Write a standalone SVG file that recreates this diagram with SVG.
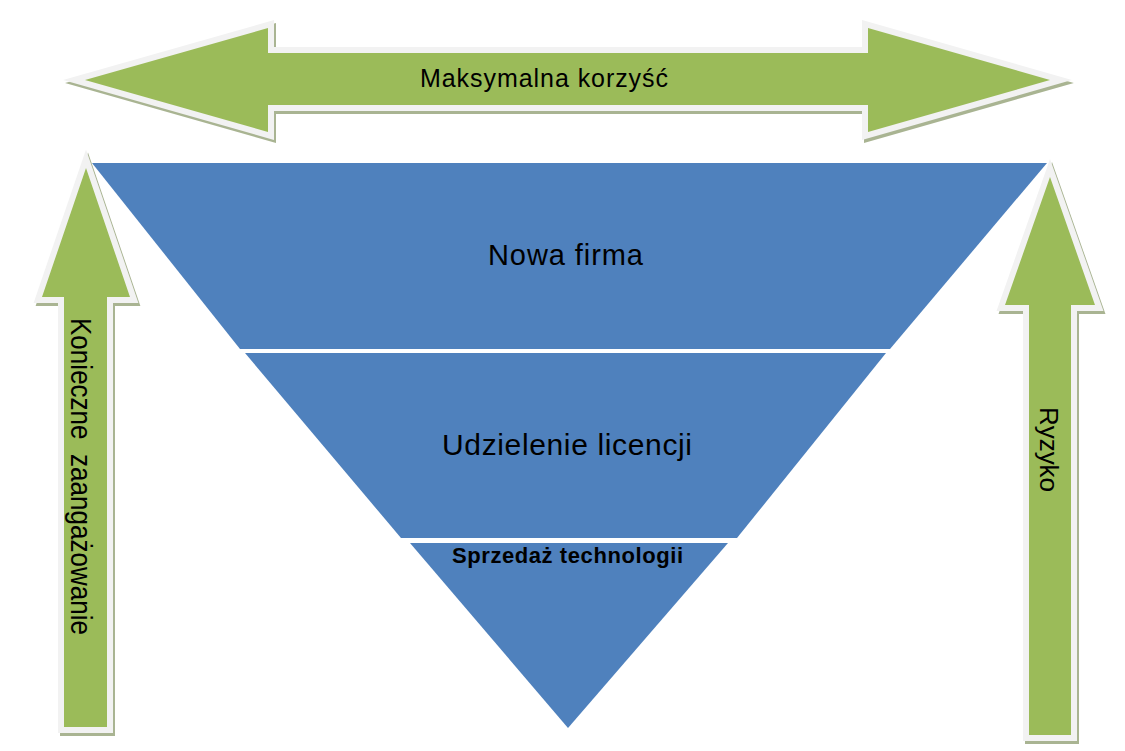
<svg xmlns="http://www.w3.org/2000/svg" width="1125" height="751" viewBox="0 0 1125 751">
<style>
.band{fill:#4f81bd}
.shadow{fill:#a9b492;stroke:#a9b492;stroke-width:12;stroke-linejoin:miter;stroke-miterlimit:10}
.border{fill:#f2f2f2;stroke:#f2f2f2;stroke-width:12;stroke-linejoin:miter;stroke-miterlimit:10}
.green{fill:#9bbb59}
.t{font-family:"Liberation Sans",Arial,sans-serif;fill:#000}
</style>
<defs>
<polygon id="hArrow" points="85,80 268,28 268,53 868,53 868,28 1050,80 868,132 868,105 268,105 268,132"/>
<polygon id="lArrow" points="86,168 130,297 107,297 107,727 64,727 64,297 42,297"/>
<polygon id="rArrow" points="1050,177 1095,305 1071,305 1071,735 1029,735 1029,305 1005,305"/>
</defs>
<rect width="1125" height="751" fill="#ffffff"/>
<g id="funnel">
<g id="nowa-firma">
<polygon class="band" points="92,163 1047,163 890,349 240,349"/>
<text class="t" x="488" y="265" font-size="29" textLength="155" lengthAdjust="spacing">Nowa firma</text>
</g>
<g id="udzielenie-licencji">
<polygon class="band" points="245,353 886,353 737,538 401,538"/>
<text class="t" x="442" y="455" font-size="30" textLength="250" lengthAdjust="spacing">Udzielenie licencji</text>
</g>
<g id="sprzedaz-technologii">
<polygon class="band" points="410,543 728,543 568,728"/>
<text class="t" x="452" y="563" font-size="22" font-weight="bold" textLength="231" lengthAdjust="spacing">Sprzedaż technologii</text>
</g>
</g>
<g id="maksymalna-korzysc">
<use href="#hArrow" class="shadow" transform="translate(2,3)"/>
<use href="#hArrow" class="border"/>
<use href="#hArrow" class="green"/>
<text class="t" x="420" y="87" font-size="25" textLength="248" lengthAdjust="spacing">Maksymalna korzyść</text>
</g>
<g id="konieczne-zaangazowanie">
<use href="#lArrow" class="shadow" transform="translate(2,3)"/>
<use href="#lArrow" class="border"/>
<use href="#lArrow" class="green"/>
<text class="t" style="white-space:pre" xml:space="preserve" transform="translate(71,318) rotate(90) scale(1,1.15)" x="0" y="0" font-size="26" textLength="317" lengthAdjust="spacing">Konieczne  zaangażowanie</text>
</g>
<g id="ryzyko">
<use href="#rArrow" class="shadow" transform="translate(2,3)"/>
<use href="#rArrow" class="border"/>
<use href="#rArrow" class="green"/>
<text class="t" transform="translate(1040,407) rotate(90)" x="0" y="0" font-size="26" textLength="85" lengthAdjust="spacing">Ryzyko</text>
</g>
<g id="connectors"/>
</svg>
